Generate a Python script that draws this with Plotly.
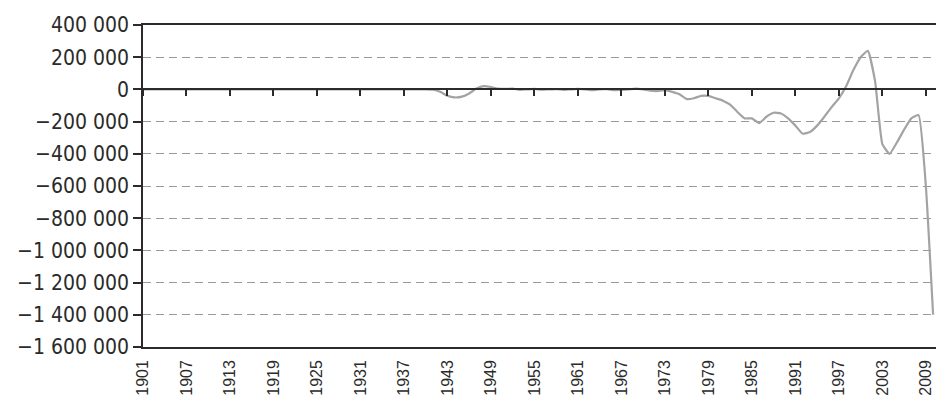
import plotly.graph_objects as go

# annual values, 1901-2010
years = list(range(1901, 2011))
values = (
    [0] * 40
    + [
        -2000, -15000, -40000, -50000, -45000, -25000, 5000, 20000, 15000, 5000,  # 1941-1950
        3000, 5000, -3000, 0, 3000, -2000, 0, 2000, -3000, 0,  # 1951-1960
        3000, 0, -5000, 0, 2000, -5000, -3000, 0, 5000, 0,  # 1961-1970
        -8000, -10000, -5000, -15000, -30000, -60000, -55000, -40000, -40000, -55000,  # 1971-1980
        -70000, -95000, -140000, -180000, -180000, -210000, -170000, -145000, -150000, -180000,  # 1981-1990
        -225000, -275000, -265000, -225000, -170000, -110000, -55000, 20000, 120000, 200000,  # 1991-2000
        240000, 50000, -340000, -400000, -330000, -250000, -180000, -160000, -600000, -1400000,  # 2001-2010
    ]
)

x_ticks = list(range(1901, 2011, 6))
x_labels = [str(y) for y in x_ticks]
y_ticks = [400000, 200000, 0, -200000, -400000, -600000, -800000,
           -1000000, -1200000, -1400000, -1600000]
y_labels = ["400 000", "200 000", "0", "\u2212200 000", "\u2212400 000", "\u2212600 000",
            "\u2212800 000", "\u22121 000 000", "\u22121 200 000", "\u22121 400 000",
            "\u22121 600 000"]

DARK = "#2b2b2b"
XR = [1901, 2010.4]

fig = go.Figure()
fig.add_trace(go.Scatter(
    x=years, y=values, mode="lines",
    line=dict(color="#a3a3a3", width=2.2, shape="spline", smoothing=0.4),
    showlegend=False, hoverinfo="skip",
))
# helper trace so the zero-line tick axis is drawn
fig.add_trace(go.Scatter(x=[years[0]], y=[0], xaxis="x2", mode="markers",
                         marker=dict(opacity=0), showlegend=False, hoverinfo="skip"))

# page body has an 8px margin; keep the figure small enough to avoid scrollbars
fig.update_layout(
    width=928, height=392,
    margin=dict(l=135, r=0, t=17, b=53, autoexpand=False),
    paper_bgcolor="white", plot_bgcolor="white",
    font=dict(family="Liberation Sans Narrow, DejaVu Sans Condensed, sans-serif", color=DARK),
    xaxis=dict(
        range=XR, tickvals=x_ticks, ticktext=x_labels, tickangle=-90,
        showgrid=False, zeroline=False, ticks="", automargin=False,
        showline=True, linecolor=DARK, linewidth=1.5, mirror=True,
        tickfont=dict(family="Liberation Sans, Arial, sans-serif", size=16, color=DARK),
        ticklabelstandoff=5,
    ),
    xaxis2=dict(
        range=XR, overlaying="x", anchor="free", position=0.8,
        tickvals=x_ticks, showticklabels=False, ticks="outside", ticklen=6,
        tickwidth=1.5, tickcolor=DARK, showline=True, linecolor=DARK, linewidth=1.5,
        showgrid=False, zeroline=False, automargin=False,
    ),
    yaxis=dict(
        range=[-1600000, 400000], tickvals=y_ticks, ticktext=y_labels,
        showgrid=True, gridcolor="#9a9a9a", gridwidth=1, griddash="8px,5px",
        zeroline=False, showline=True, linecolor=DARK, linewidth=1.5, automargin=False,
        ticks="outside", ticklen=8, tickwidth=1.5, tickcolor=DARK,
        tickfont=dict(size=21, color=DARK),
    ),
)

fig.write_html("out.html")
